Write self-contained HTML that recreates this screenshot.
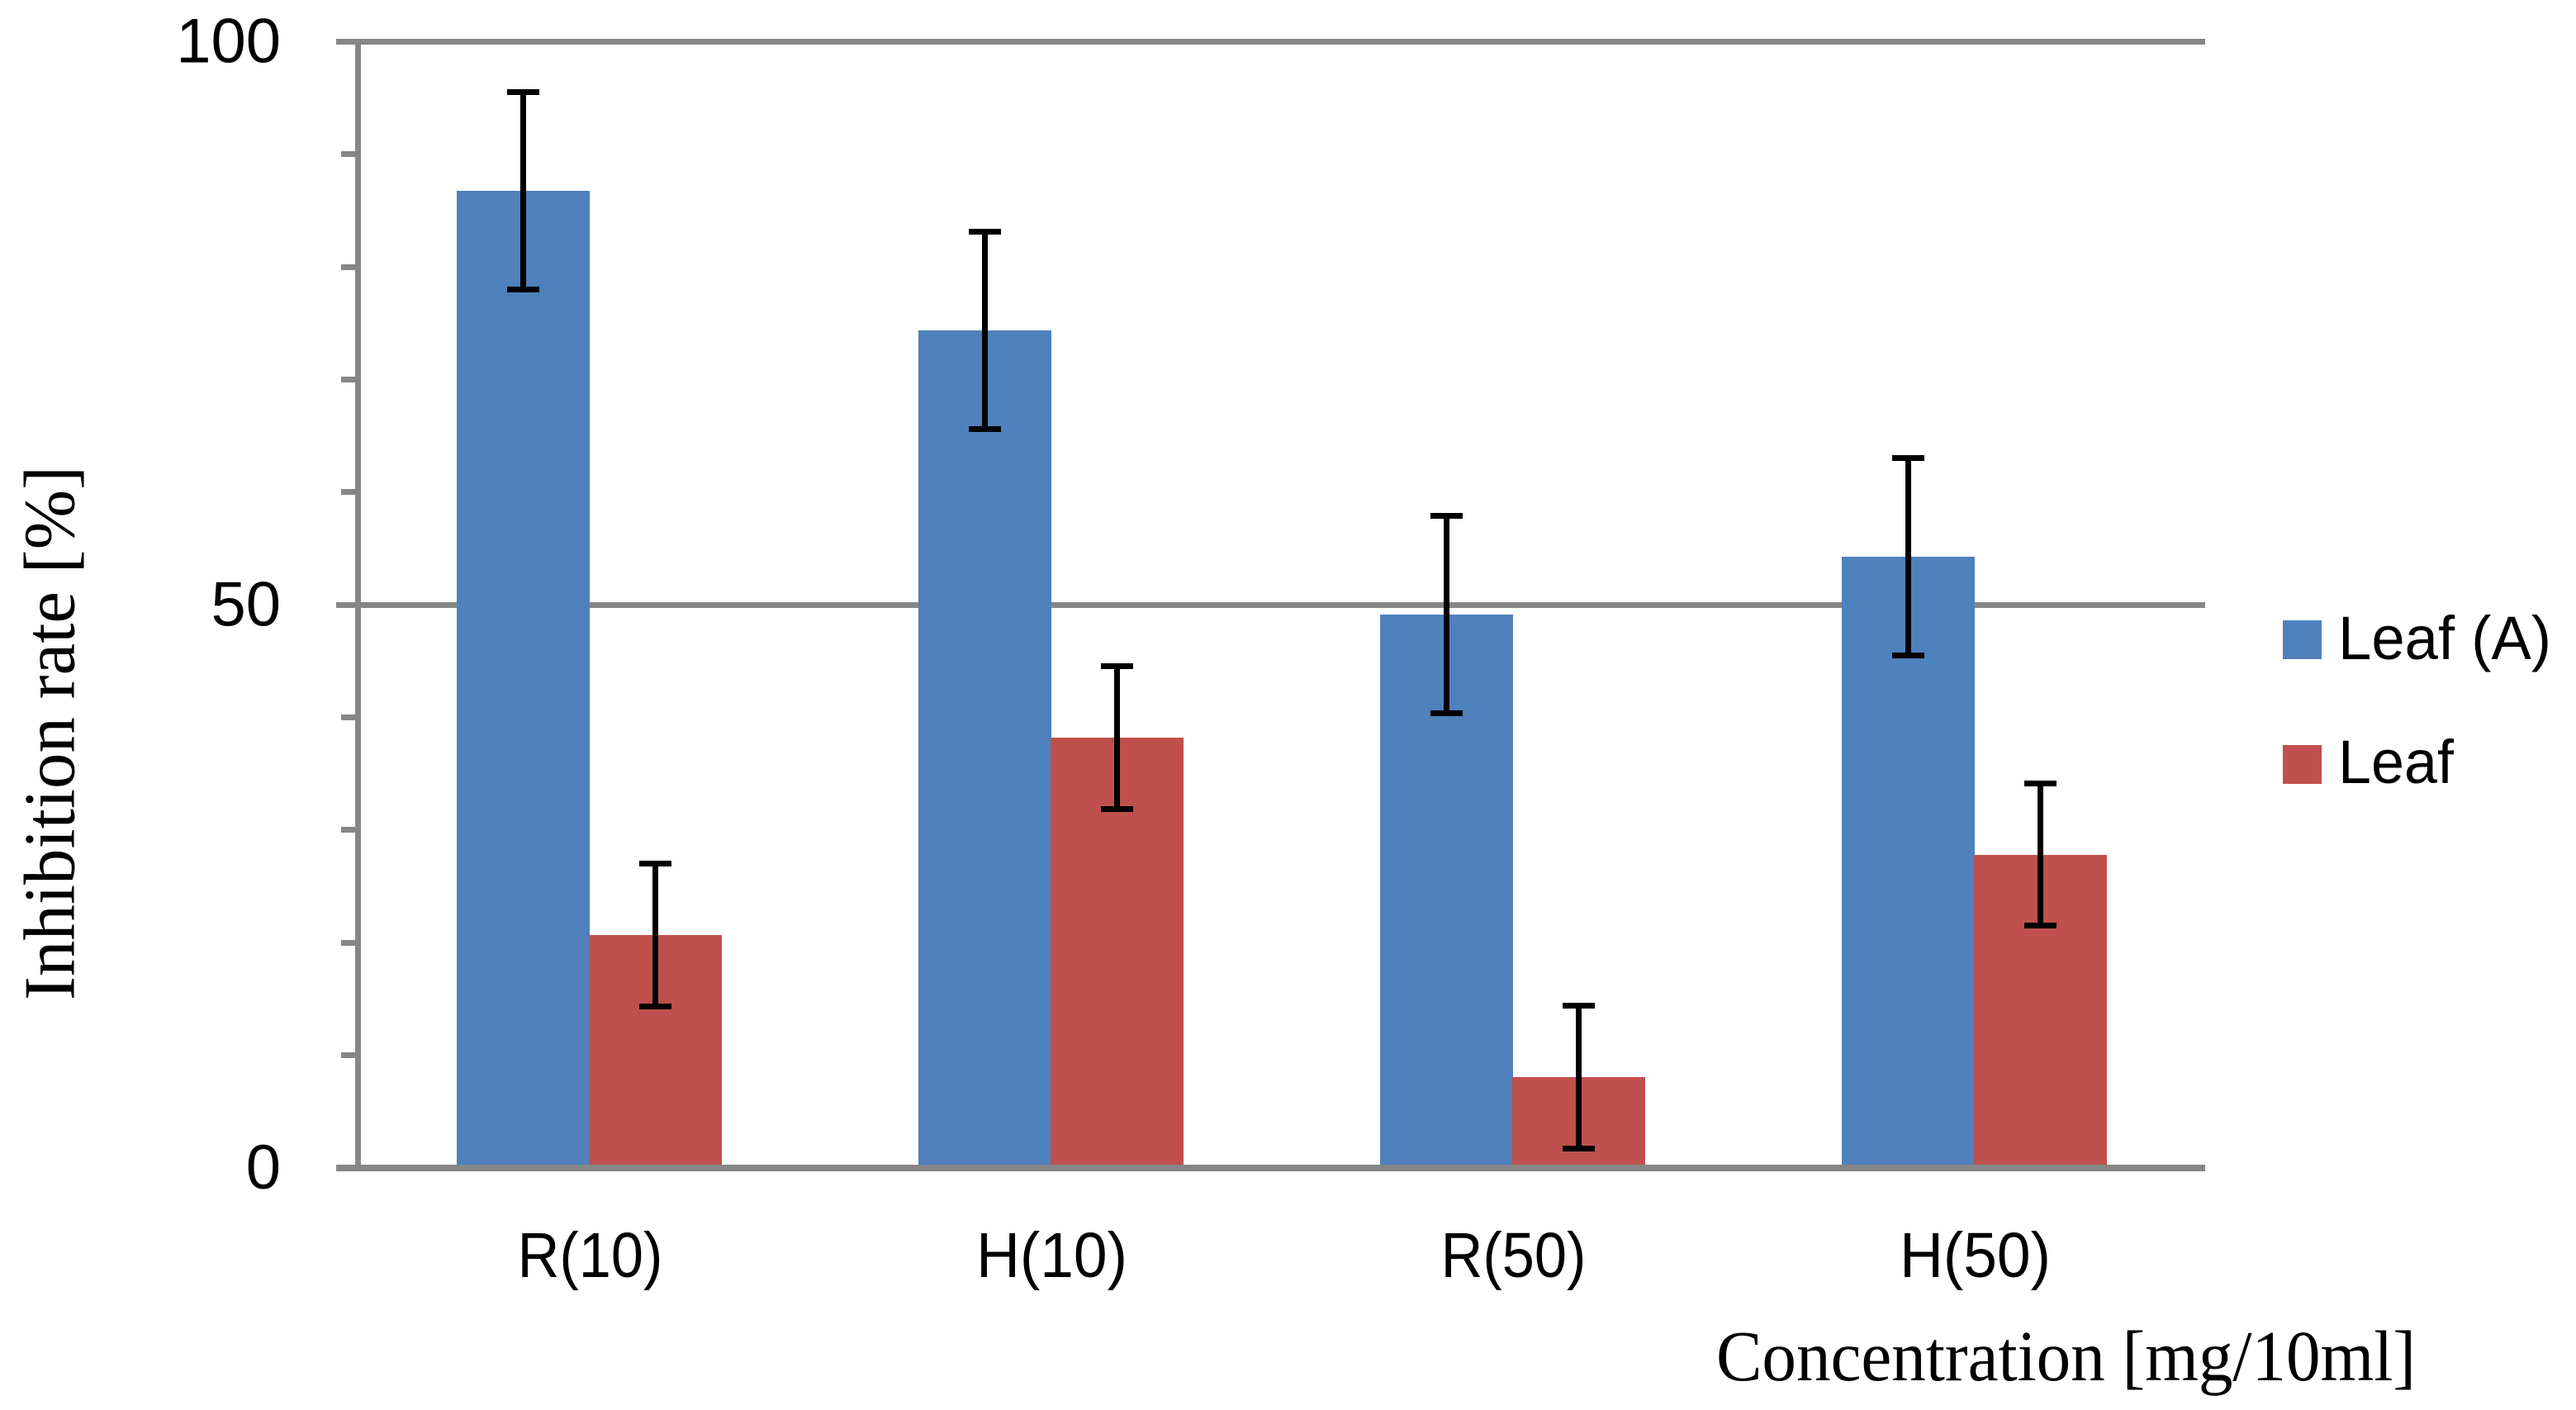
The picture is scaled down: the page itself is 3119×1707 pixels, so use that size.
<!DOCTYPE html>
<html lang="en">
<head>
<meta charset="utf-8">
<title>Inhibition rate chart</title>
<style>
html,body{margin:0;padding:0;background:#fff;width:3119px;height:1707px;overflow:hidden}
svg{display:block}
.sans{font-family:"Liberation Sans",sans-serif;fill:#000}
.serif{font-family:"Liberation Serif",serif;fill:#000}
</style>
</head>
<body>
<svg id="chart" xmlns="http://www.w3.org/2000/svg" width="3119" height="1707" viewBox="0 0 3119 1707">
  <rect x="0" y="0" width="3119" height="1707" fill="#fff"/>
  <g id="grid"></g>
  <g id="bars"></g>
  <g id="axes"></g>
  <g id="errors"></g>
  <g id="labels"></g>
  <text class="serif" font-size="88" transform="translate(89.5,1211) rotate(-90)" textLength="647" lengthAdjust="spacingAndGlyphs">Inhibition rate [%]</text>
  <text class="serif" font-size="87" x="2078" y="1671" textLength="847" lengthAdjust="spacingAndGlyphs">Concentration [mg/10ml]</text>
  <g>
    <g>
      <rect x="2764" y="751" width="47" height="47" fill="#4F81BD"/>
      <text class="sans" font-size="74" x="2831" y="798" textLength="258" lengthAdjust="spacingAndGlyphs">Leaf (A)</text>
    </g>
    <g>
      <rect x="2764" y="902" width="47" height="47" fill="#C0504D"/>
      <text class="sans" font-size="74" x="2831" y="948" textLength="140" lengthAdjust="spacingAndGlyphs">Leaf</text>
    </g>
  </g>
</svg>
<script>
const categories = ["R(10)", "H(10)", "R(50)", "H(50)"];
const leafAValues = [86.76, 74.37, 49.14, 54.27];
const leafValues = [20.68, 38.21, 8.07, 27.83];
const leafAErrors = [8.78, 8.78, 8.78, 8.77];
const leafErrors = [6.33, 6.34, 6.33, 6.33];
const majorTicks = [0, 50, 100];
const minorTicks = [10, 20, 30, 40, 60, 70, 80, 90];

const NS = "http://www.w3.org/2000/svg";
const plotLeft = 434, plotRight = 2670, plotTop = 50.5, plotBottom = 1414;
const axisMax = 100;
const gray = "#868686", blue = "#4F81BD", red = "#C0504D";
const groupWidth = (plotRight - plotLeft) / categories.length;
const barWidth = groupWidth / 3.48;

function yScale(v) { return plotBottom - (v / axisMax) * (plotBottom - plotTop); }
function xCenter(i) { return plotLeft + groupWidth * (i + 0.5); }

function makeRect(parent, x, y, w, h, fill) {
  const r = document.createElementNS(NS, "rect");
  r.setAttribute("x", x);
  r.setAttribute("y", y);
  r.setAttribute("width", w);
  r.setAttribute("height", h);
  r.setAttribute("fill", fill);
  parent.appendChild(r);
  return r;
}

const grid = document.getElementById("grid");
const bars = document.getElementById("bars");
const axes = document.getElementById("axes");
const errors = document.getElementById("errors");
const labels = document.getElementById("labels");

majorTicks.forEach(function (t) {
  if (t === 0) return;
  const g = makeRect(grid, 407, Math.round(yScale(t) - 3.5), plotRight - 407, 7, gray);
  
  
});

function drawSeries(values, errs, fill, offset, name) {
  values.forEach(function (v, i) {
    const x = Math.round(xCenter(i) + offset * barWidth - 0.01);
    const top = Math.round(yScale(v));
    const b = makeRect(bars, x, top, Math.round(barWidth), plotBottom - top, fill);
    
    

    const cx = xCenter(i) + (offset + 0.5) * barWidth;
    const hi = yScale(v + errs[i]);
    const lo = yScale(v - errs[i]);
    const stem = makeRect(errors, Math.round(cx - 3.5), Math.round(hi), 7, Math.round(lo - hi), "#000");
    
    
    const capT = makeRect(errors, Math.round(cx - 19.5), Math.round(hi - 3.5), 39, 7, "#000");
    
    
    const capB = makeRect(errors, Math.round(cx - 19.5), Math.round(lo - 3.5), 39, 7, "#000");
    
    
  });
}
drawSeries(leafAValues, leafAErrors, blue, -1, 'leaf-a');
drawSeries(leafValues, leafErrors, red, 0, 'leaf');

const yAxis = makeRect(axes, 430, Math.round(yScale(100)), 7, plotBottom - Math.round(yScale(100)), gray);


const xAxis = makeRect(axes, 407, plotBottom - 4, plotRight - 407, 8, gray);



minorTicks.forEach(function (t) {
  const m = makeRect(axes, 413, Math.round(yScale(t) - 3.5), 18, 7, gray);
  
  
});

majorTicks.forEach(function (t) {
  const el = document.createElementNS(NS, "text");
  
  
  el.setAttribute("class", "sans");
  el.setAttribute("font-size", "76");
  el.setAttribute("text-anchor", "end");
  el.setAttribute("transform", "translate(340," + (yScale(t) + 25) + ")");
  el.textContent = String(t);
  labels.appendChild(el);
});

categories.forEach(function (c, i) {
  const el = document.createElementNS(NS, "text");
  
  
  el.setAttribute("class", "sans");
  el.setAttribute("font-size", "77");
  el.setAttribute("text-anchor", "middle");
  const stretch = c.charAt(0) === "H" ? 0.95 : 0.913;
  el.setAttribute("transform", "translate(" + (xCenter(i) + 1) + ",1546) scale(" + stretch + ",1)");
  el.textContent = c;
  labels.appendChild(el);
});
</script>
</body>
</html>
